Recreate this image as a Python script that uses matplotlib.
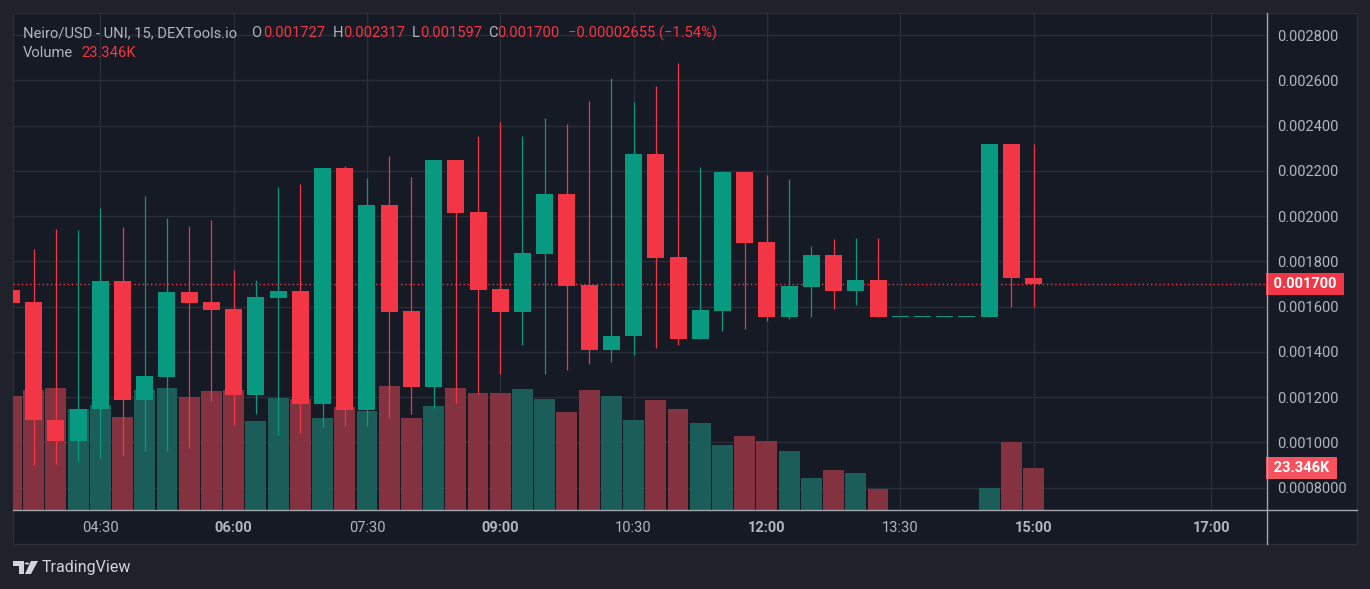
import numpy as np
import pandas as pd
import matplotlib
matplotlib.use("Agg")
import matplotlib.pyplot as plt
import matplotlib.transforms as mtransforms
from matplotlib.patches import Rectangle, Polygon, Circle
from matplotlib.lines import Line2D

plt.rcParams["font.family"] = ["Roboto", "DejaVu Sans"]

# 15 minute candles, Neiro/USD
start_time = "03:30"
interval_min = 15

opens = [0.001672, 0.001618, 0.001100, 0.001004, 0.001146, 0.001714, 0.001186, 0.001288,
         0.001663, 0.001618, 0.001587, 0.001208, 0.001638, 0.001667, 0.001168, 0.002212,
         0.001142, 0.002048, 0.001579, 0.001244, 0.002247, 0.002017, 0.001676, 0.001574,
         0.001831, 0.002097, 0.001694, 0.001410, 0.001468, 0.002274, 0.001818, 0.001455,
         0.001579, 0.002194, 0.001884, 0.001552, 0.001685, 0.001827, 0.001667, 0.001716,
         0.001553, 0.001553, 0.001553, 0.001553, 0.001552, 0.002317, 0.001727]
highs = [0.001760, 0.001853, 0.001942, 0.001937, 0.002035, 0.001951, 0.002088, 0.001990,
         0.001955, 0.001982, 0.001760, 0.001716, 0.002128, 0.002142, 0.002212, 0.002221,
         0.002168, 0.002265, 0.002172, 0.002247, 0.002247, 0.002354, 0.002415, 0.002354,
         0.002433, 0.002407, 0.002508, 0.002610, 0.002504, 0.002575, 0.002677, 0.002216,
         0.002198, 0.002194, 0.002181, 0.002163, 0.001866, 0.001897, 0.001902, 0.001902,
         0.001553, 0.001553, 0.001553, 0.001553, 0.002317, 0.002317, 0.002317]
lows = [0.001560, 0.000898, 0.000903, 0.000911, 0.000929, 0.000938, 0.000960, 0.000960,
        0.000973, 0.001182, 0.001075, 0.001124, 0.001031, 0.001040, 0.001066, 0.001071,
        0.001071, 0.001106, 0.001124, 0.001151, 0.001173, 0.001215, 0.001301, 0.001430,
        0.001301, 0.001319, 0.001345, 0.001354, 0.001385, 0.001416, 0.001430, 0.001455,
        0.001490, 0.001499, 0.001534, 0.001543, 0.001556, 0.001587, 0.001605, 0.001552,
        0.001553, 0.001553, 0.001553, 0.001553, 0.001552, 0.001596, 0.001597]
closes = [0.001616, 0.001097, 0.001004, 0.001149, 0.001714, 0.001186, 0.001291, 0.001663,
          0.001615, 0.001583, 0.001208, 0.001641, 0.001667, 0.001168, 0.002212, 0.001142,
          0.002048, 0.001574, 0.001244, 0.002247, 0.002014, 0.001672, 0.001574, 0.001835,
          0.002097, 0.001689, 0.001410, 0.001472, 0.002274, 0.001815, 0.001455, 0.001583,
          0.002194, 0.001880, 0.001552, 0.001689, 0.001827, 0.001667, 0.001716, 0.001552,
          0.001553, 0.001553, 0.001553, 0.001553, 0.002317, 0.00172655, 0.001700]
volumes_k = [63.4, 66.7, 67.8, 56.1, 58.4, 51.7, 66.7, 67.8, 62.8, 66.1, 66.7, 49.5,
             62.3, 61.7, 51.1, 57.3, 55.0, 68.9, 51.1, 57.8, 67.8, 65.0, 65.0, 67.3,
             61.7, 54.5, 66.7, 63.4, 50.0, 61.1, 56.1, 48.4, 36.1, 41.1, 38.4, 32.8,
             17.8, 22.2, 20.6, 11.7, 0.0, 0.0, 0.0, 0.0, 12.2, 37.8, 23.346]

price_ticks = [0.0008, 0.0010, 0.0012, 0.0014, 0.0016, 0.0018, 0.0020, 0.0022, 0.0024, 0.0026, 0.0028]
price_tick_labels = ["0.0008000", "0.001000", "0.001200", "0.001400", "0.001600", "0.001800",
                     "0.002000", "0.002200", "0.002400", "0.002600", "0.002800"]
time_tick_labels = ["04:30", "06:00", "07:30", "09:00", "10:30", "12:00", "13:30", "15:00", "17:00"]
bold_time_labels = ["06:00", "09:00", "12:00", "15:00", "17:00"]

UP = "#089981"
DOWN = "#f23645"
UP_VOL = "#1c625c"
DOWN_VOL = "#8b3442"
PANEL = "#161a25"
OUTER = "#1f222b"
TEXT = "#b2b5be"
GRID = "#2a2e39"

W, H = 1370, 589


def fx(px):
    return px / W


def fy(py):
    return 1 - py / H


o = np.array(opens)
h = np.array(highs)
l = np.array(lows)
c = np.array(closes)
v = np.array(volumes_k)
x = np.arange(len(o))
up = c >= o

t0 = pd.Timestamp("2024-01-01 " + start_time)
tick_pos = [(pd.Timestamp("2024-01-01 " + s) - t0).total_seconds() / 60 / interval_min
            for s in time_tick_labels]

fig = plt.figure(figsize=(W / 100, H / 100), dpi=100, facecolor=OUTER)
fig.add_artist(Rectangle((fx(13), fy(544)), fx(1357) - fx(13), fy(13) - fy(544),
                         transform=fig.transFigure, facecolor=PANEL, edgecolor=GRID,
                         lw=1, zorder=-10))

rect = [fx(13), fy(510), fx(1266) - fx(13), fy(13) - fy(510)]
y_lo, y_hi = 0.0007008, 0.0028975

# base axes: grid + scales
base = fig.add_axes(rect)
base.set_facecolor("none")

# volume pane (twinx moves base ticks left, so set right ticks afterwards)
vol = base.twinx()

base.set_xlim(0.071, 56.46)
base.set_ylim(y_lo, y_hi)
base.yaxis.tick_right()
base.set_yticks(price_ticks, price_tick_labels)
base.set_xticks(tick_pos, time_tick_labels)
base.tick_params(axis="both", length=0, colors=TEXT, labelsize=10.5)
base.tick_params(axis="y", pad=8)
base.tick_params(axis="x", pad=8)
for lbl in base.get_xticklabels():
    if lbl.get_text() in bold_time_labels:
        lbl.set_fontweight("bold")
base.grid(True, color=GRID, lw=1)
for s in base.spines.values():
    s.set_visible(False)

vol.set_ylim(0, 23.346 * 497 / 42)
vol.bar(x, v, width=0.94, color=np.where(up, UP_VOL, DOWN_VOL), alpha=0.95, zorder=2)
vol.set_yticks([])
for s in vol.spines.values():
    s.set_visible(False)

# candles
cax = fig.add_axes(rect, sharex=base, sharey=base)
cax.patch.set_visible(False)
cax.axis("off")
colors = np.where(up, UP, DOWN)
cax.axhline(c[-1], color=DOWN, lw=1, ls=(0, (1, 2)), zorder=1)
cax.vlines(x, l, h, color=colors, lw=0.9, zorder=3)
min_h = (y_hi - y_lo) / 497
cax.bar(x, np.maximum(np.abs(c - o), min_h), bottom=np.minimum(o, c), width=0.765,
        color=colors, zorder=4)

# last value labels on the price scale
tr_price = mtransforms.offset_copy(
    mtransforms.blended_transform_factory(cax.transAxes, cax.transData), fig=fig, x=4, y=0, units="dots")
cax.text(1.0, c[-1], " %.6f " % c[-1], transform=tr_price, ha="left", va="center",
         color="white", fontsize=10.5, fontweight="bold", clip_on=False,
         bbox=dict(boxstyle="square,pad=0.25", fc=DOWN, ec="none"))
tr_vol = mtransforms.offset_copy(
    mtransforms.blended_transform_factory(vol.transAxes, vol.transData), fig=fig, x=4, y=0, units="dots")
vol.text(1.0, v[-1], " %.3fK " % v[-1], transform=tr_vol, ha="left", va="center",
         color="white", fontsize=10.5, fontweight="bold", clip_on=False,
         bbox=dict(boxstyle="square,pad=0.25", fc="#f7525f", ec="none"), zorder=10)

# scale separators
fig.add_artist(Line2D([fx(1267), fx(1267)], [fy(13), fy(544)], color="#a3a6af", lw=1))
fig.add_artist(Line2D([fx(13), fx(1357)], [fy(510), fy(510)], color="#a3a6af", lw=1))

# legend header
chg = c[-1] - c[-2]
chg_txt = ("%.8f (%.2f%%)" % (chg, chg / c[-2] * 100)).replace("-", "\u2212")
header = [("Neiro/USD - UNI, 15, DEXTools.io", 23, TEXT),
          ("O", 251, TEXT), ("%.6f" % o[-1], 263, DOWN),
          ("H", 333, TEXT), ("%.6f" % h[-1], 343, DOWN),
          ("L", 412, TEXT), ("%.6f" % l[-1], 420, DOWN),
          ("C", 488, TEXT), ("%.6f" % c[-1], 497, DOWN),
          (chg_txt, 568, DOWN)]
for txt, px, col in header:
    fig.text(fx(px), fy(33), txt, color=col, fontsize=10.6, va="center", ha="left")
fig.text(fx(23), fy(53), "Volume", color=TEXT, fontsize=10.6, va="center", ha="left")
fig.text(fx(81), fy(53), "%.3fK" % v[-1], color=DOWN, fontsize=10.6, va="center", ha="left")

# TradingView footer
logo_col = "#d1d4dc"
fig.add_artist(Polygon([(fx(13), fy(561)), (fx(24), fy(561)), (fx(24), fy(574)), (fx(19), fy(574)),
                        (fx(19), fy(565.5)), (fx(13), fy(565.5))], closed=True,
                       transform=fig.transFigure, fc=logo_col, ec="none"))
fig.add_artist(Circle((fx(27), fy(563.5)), 2.3 / W, transform=fig.transFigure, fc=logo_col, ec="none"))
fig.add_artist(Polygon([(fx(31), fy(561)), (fx(38), fy(561)), (fx(31), fy(574)), (fx(25), fy(574))],
                       closed=True, transform=fig.transFigure, fc=logo_col, ec="none"))
fig.text(fx(42), fy(567.5), "TradingView", color=logo_col, fontsize=11.5, va="center", ha="left")

fig.savefig("out.png", dpi=100, facecolor=OUTER)
